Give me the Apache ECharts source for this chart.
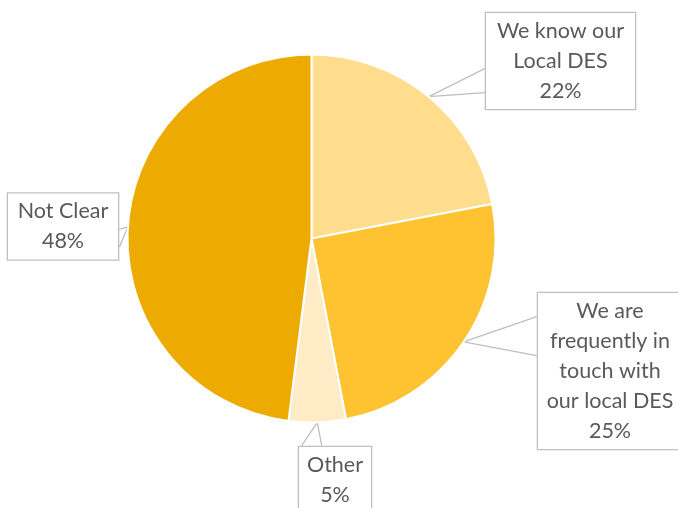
<!DOCTYPE html>
<html>
<head>
<meta charset="utf-8">
<script src="https://cdn.jsdelivr.net/npm/echarts@6/dist/echarts.min.js"></script>
<style>
  html, body { margin: 0; padding: 0; background: #ffffff; }
  #chart { width: 678px; height: 508px; }
</style>
</head>
<body>
<div id="chart"></div>
<script>
// Survey answers, clockwise from twelve o'clock
const categories = ['We know our\nLocal DES', 'We are\nfrequently in\ntouch with\nour local DES', 'Other', 'Not Clear'];
const shares = [22, 25, 5, 48];
const sliceColors = ['#FFDD8C', '#FFC332', '#FFEBC6', '#EDAA00'];

// Callout boxes: centre point, inner text width, and where the pointer meets the box
const calloutCenters = [[560.5, 61], [610, 371], [335, 480], [63, 226.5]];
const calloutWidths = [131, 126, 54, 92];
const calloutJoins = [['left', 57, 81], ['left', 25, 64], ['top', 4, 24], ['right', 37, 55]];

const chart = echarts.init(document.getElementById('chart'), null, { renderer: 'canvas' });

chart.setOption({
  animation: false,
  series: [{
    type: 'pie',
    center: [311.5, 238.5],
    radius: 184,
    startAngle: 90,
    clockwise: true,
    itemStyle: { borderColor: '#ffffff', borderWidth: 2 },
    label: {
      show: true,
      position: 'outside',
      formatter: p => p.name + '\n' + p.value + '%',
      color: '#595959',
      fontFamily: 'Lato',
      fontSize: 21.5,
      lineHeight: 30,
      align: 'center',
      overflow: 'none',
      backgroundColor: '#ffffff',
      borderColor: '#BFBFBF',
      borderWidth: 1.3,
      padding: [3, 9]
    },
    labelLine: { show: true, lineStyle: { color: '#BFBFBF', width: 1.3 } },
    labelLayout: params => {
      const i = params.dataIndex;
      const [cx, cy] = calloutCenters[i];
      const w = params.labelRect.width;
      const h = params.labelRect.height;
      const left = cx - w / 2;
      const top = cy - h / 2;
      const [side, a, b] = calloutJoins[i];
      let p1, p2;
      if (side === 'left') { p1 = [left, top + a]; p2 = [left, top + b]; }
      else if (side === 'right') { p1 = [left + w, top + a]; p2 = [left + w, top + b]; }
      else { p1 = [left + a, top]; p2 = [left + b, top]; }
      const tip = params.labelLinePoints[0];
      return {
        x: cx,
        y: cy,
        align: 'center',
        verticalAlign: 'middle',
        labelLinePoints: [p1, tip, p2]
      };
    },
    emphasis: { disabled: true },
    data: categories.map((name, i) => ({
      name: name,
      value: shares[i],
      itemStyle: { color: sliceColors[i] },
      label: { width: calloutWidths[i] }
    }))
  }]
});
</script>
</body>
</html>
